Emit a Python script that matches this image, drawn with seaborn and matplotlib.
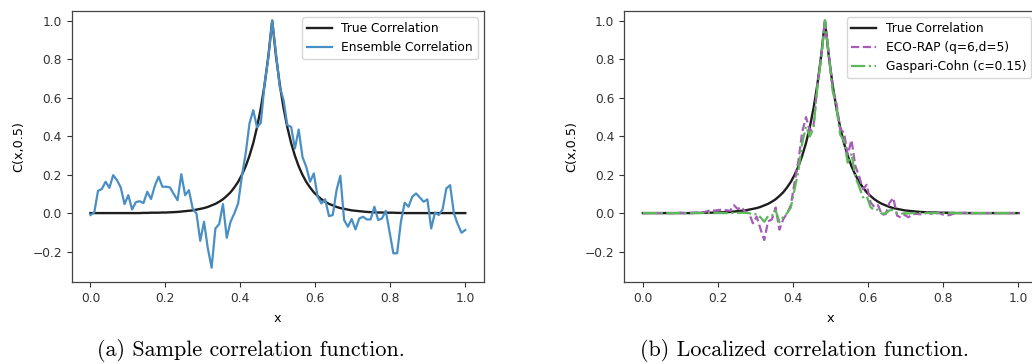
import numpy as np
import pandas as pd
import matplotlib
matplotlib.use("Agg")
import matplotlib.pyplot as plt
import seaborn as sns

# grid of 100 points on [0, 1]
x = np.linspace(0.0, 1.0, 100)

# exact correlation with the point x = 0.5 (sharp exponential peak)
true_corr = [
    0.000, 0.000, 0.000, 0.000, 0.000, 0.000, 0.000, 0.000, 0.000, 0.000,
    0.000, 0.000, 0.000, 0.000, 0.001, 0.001, 0.002, 0.002, 0.002, 0.003,
    0.003, 0.004, 0.005, 0.006, 0.008, 0.010, 0.012, 0.014, 0.018, 0.022,
    0.026, 0.032, 0.040, 0.048, 0.059, 0.072, 0.089, 0.108, 0.133, 0.162,
    0.199, 0.243, 0.298, 0.364, 0.446, 0.546, 0.668, 0.817, 1.000, 0.817,
    0.668, 0.546, 0.446, 0.364, 0.298, 0.243, 0.199, 0.162, 0.133, 0.108,
    0.089, 0.072, 0.059, 0.048, 0.040, 0.032, 0.026, 0.022, 0.018, 0.014,
    0.012, 0.010, 0.008, 0.006, 0.005, 0.004, 0.003, 0.003, 0.002, 0.002,
    0.002, 0.001, 0.001, 0.000, 0.000, 0.000, 0.000, 0.000, 0.000, 0.000,
    0.000, 0.000, 0.000, 0.000, 0.000, 0.000, 0.000, 0.000, 0.000, 0.000,
]

# sample (ensemble) estimate of the same correlation
ensemble_corr = [
    -0.010, 0.003, 0.116, 0.125, 0.163, 0.131, 0.197, 0.171, 0.133, 0.047,
    0.093, 0.019, 0.057, 0.062, 0.052, 0.111, 0.073, 0.142, 0.189, 0.137,
    0.137, 0.133, 0.099, 0.067, 0.202, 0.093, 0.119, 0.024, -0.002, -0.144,
    -0.045, -0.183, -0.284, -0.080, -0.057, 0.047, -0.128, -0.045, -0.002, 0.050,
    0.192, 0.310, 0.465, 0.535, 0.445, 0.470, 0.673, 0.810, 1.000, 0.830,
    0.656, 0.587, 0.457, 0.448, 0.336, 0.434, 0.292, 0.240, 0.163, 0.206,
    0.085, 0.050, 0.071, -0.016, -0.010, 0.119, 0.194, -0.036, -0.071, -0.031,
    -0.085, -0.028, -0.019, -0.033, -0.033, 0.033, -0.036, -0.028, 0.012, -0.097,
    -0.209, -0.209, -0.045, 0.054, 0.033, 0.085, 0.102, 0.081, 0.059, 0.071,
    -0.080, 0.003, -0.010, 0.019, 0.128, 0.145, -0.002, -0.057, -0.102, -0.088,
]

# ECO-RAP localized correlation (q=6, d=5)
eco_rap_corr = [
    0.000, 0.000, 0.000, 0.000, 0.000, 0.000, 0.000, 0.000, 0.000, 0.001,
    0.002, 0.000, 0.002, 0.002, 0.002, 0.005, 0.004, 0.010, 0.016, 0.013,
    0.016, 0.018, 0.015, 0.012, 0.041, 0.021, 0.031, 0.007, -0.001, -0.053,
    -0.018, -0.082, -0.140, -0.043, -0.033, 0.029, -0.086, -0.032, -0.002, 0.040,
    0.161, 0.271, 0.421, 0.499, 0.426, 0.458, 0.666, 0.808, 1.000, 0.828,
    0.649, 0.572, 0.437, 0.418, 0.304, 0.379, 0.245, 0.192, 0.124, 0.147,
    0.057, 0.031, 0.041, -0.009, -0.005, 0.053, 0.079, -0.013, -0.023, -0.009,
    -0.022, -0.006, -0.004, -0.006, -0.005, 0.004, -0.004, -0.003, 0.001, -0.007,
    -0.012, -0.010, -0.002, 0.002, 0.001, 0.002, 0.002, 0.000, 0.000, 0.000,
    0.000, 0.000, 0.000, 0.000, 0.000, 0.000, 0.000, 0.000, 0.000, 0.000,
]

# Gaspari-Cohn localized correlation (c = 0.15)
gaspari_cohn_corr = [
    0.000, 0.000, 0.000, 0.000, 0.000, 0.000, 0.000, 0.000, 0.000, 0.000,
    0.000, 0.000, 0.000, 0.000, 0.000, 0.000, 0.000, 0.000, 0.000, 0.000,
    0.000, 0.000, 0.000, 0.000, 0.001, 0.001, 0.002, 0.001, 0.000, -0.009,
    -0.004, -0.022, -0.045, -0.016, -0.014, 0.014, -0.047, -0.020, -0.001, 0.029,
    0.124, 0.221, 0.363, 0.450, 0.398, 0.441, 0.654, 0.804, 1.000, 0.824,
    0.637, 0.551, 0.408, 0.376, 0.262, 0.310, 0.188, 0.138, 0.082, 0.089,
    0.031, 0.015, 0.018, -0.003, -0.002, 0.014, 0.017, -0.002, -0.003, -0.001,
    -0.002, 0.000, 0.000, 0.000, 0.000, 0.000, 0.000, 0.000, 0.000, 0.000,
    0.000, 0.000, 0.000, 0.000, 0.000, 0.000, 0.000, 0.000, 0.000, 0.000,
    0.000, 0.000, 0.000, 0.000, 0.000, 0.000, 0.000, 0.000, 0.000, 0.000,
]

x_ticks = [0.0, 0.2, 0.4, 0.6, 0.8, 1.0]
y_ticks = [-0.2, 0.0, 0.2, 0.4, 0.6, 0.8, 1.0]
captions = ["(a) Sample correlation function.", "(b) Localized correlation function."]

plt.rcParams["font.family"] = ["DejaVu Sans"]
plt.rcParams["font.size"] = 8.8

fig = plt.figure(figsize=(10.32, 3.64), dpi=100)
ax_a = fig.add_axes([0.0695, 0.2253, 0.3995, 0.7445])
ax_b = fig.add_axes([0.6047, 0.2253, 0.4004, 0.7445])

# panel (a): true vs sample correlation
sns.lineplot(x=x, y=true_corr, ax=ax_a, color="#1e1e1e", lw=1.7, label="True Correlation")
sns.lineplot(x=x, y=ensemble_corr, ax=ax_a, color="#4a8fc4", lw=1.6, label="Ensemble Correlation")

# panel (b): true vs localized correlations
sns.lineplot(x=x, y=true_corr, ax=ax_b, color="#1e1e1e", lw=1.7, label="True Correlation")
sns.lineplot(x=x, y=eco_rap_corr, ax=ax_b, color="#a65cb8", lw=1.6, ls="--",
             label="ECO-RAP (q=6,d=5)")
sns.lineplot(x=x, y=gaspari_cohn_corr, ax=ax_b, color="#5cb85a", lw=1.6, ls="-.",
             label="Gaspari-Cohn (c=0.15)")

for ax in (ax_a, ax_b):
    ax.set_xlim(-0.05, 1.05)
    ax.set_ylim(-0.358, 1.05)
    ax.set_xticks(x_ticks)
    ax.set_yticks(y_ticks)
    ax.set_xlabel("x", fontsize=9.2, labelpad=5)
    ax.set_ylabel("C(x,0.5)", fontsize=9.2, labelpad=5)
    ax.tick_params(labelsize=8.8, colors="#333333", length=3.5, width=0.8)
    for sp in ax.spines.values():
        sp.set_color("#444444")
        sp.set_linewidth(0.9)
    ax.legend(loc="upper right", fontsize=8.8, frameon=True, framealpha=0.8,
              edgecolor="#cccccc", handlelength=2.0, borderpad=0.4, labelspacing=0.5)

fig.text(0.243, 0.037, captions[0], family="cmr10", fontsize=15.9, ha="center", va="center")
fig.text(0.780, 0.037, captions[1], family="cmr10", fontsize=15.9, ha="center", va="center")

fig.savefig("out.png", dpi=100)
